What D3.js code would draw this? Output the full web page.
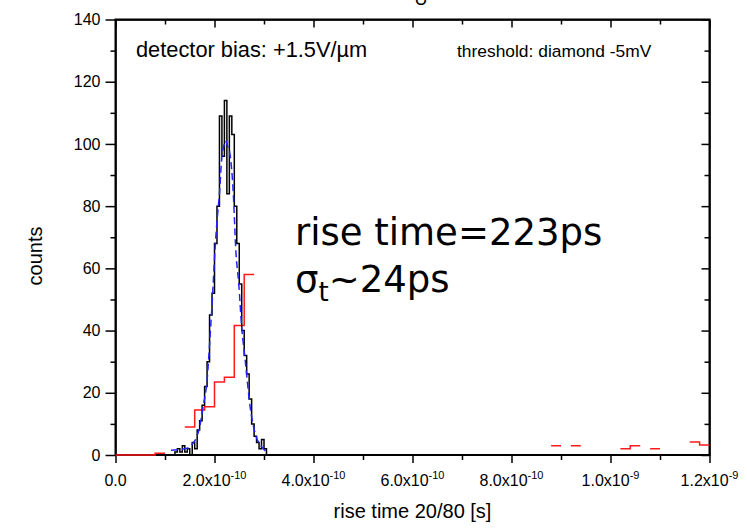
<!DOCTYPE html>
<meta charset="utf-8">
<html>
<head>
<style>
  body { margin: 0; background: #fff; }
  svg { display: block; }
  .axis path, .axis line { stroke: #000; }
  .axis text { font-family: "Liberation Sans", Arial, sans-serif; font-size: 16px; fill: #000; }
</style>
</head>
<body>
<svg id="chart"></svg>
<script src="https://cdn.jsdelivr.net/npm/d3@7"></script>
<script>

// x values are in units of 1e-10 s
var xTicks = [0, 2, 4, 6, 8, 10, 12];
var xTickMant = ["0.0", "2.0", "4.0", "6.0", "8.0", "1.0", "1.2"];
var xTickExp = [null, "-10", "-10", "-10", "-10", "-9", "-9"];
var yTicks = [0, 20, 40, 60, 80, 100, 120, 140];

// fine histogram (black), bins of 0.05e-10 starting at 1.20e-10
var blackStart = 1.20, blackWidth = 0.05;
var blackCounts = [1, 2, 1, 3, 1, 2, 0, 4, 2, 8, 11, 16, 22, 30, 45, 52, 68, 80,
                   109, 96, 114, 84, 109, 103, 80, 68, 55, 40, 32, 26, 18, 10, 6, 4, 2, 5, 2];

// gaussian fit (blue dashed)
var fitT = [1.12, 1.3, 1.45, 1.55, 1.61, 1.7, 1.77, 1.855, 1.91, 1.96, 2.01, 2.06, 2.1, 2.145,
            2.19, 2.225, 2.26, 2.31, 2.38, 2.43, 2.49, 2.55, 2.62, 2.72, 2.82, 2.95, 3.05];
var fitC = [1.5, 1.8, 2.2, 3.5, 4.8, 9, 15.5, 25, 38, 51, 66, 77, 84, 95,
            99.5, 101, 99.5, 97, 84, 66, 55, 41, 30.5, 15.5, 7, 2.7, 1];

// coarse histogram (red)
var redStart = [0, 0.8, 1.4, 1.6, 1.8, 2.0, 2.2, 2.4, 2.6, 8.8, 9.2, 10.2, 10.4, 10.8, 11.6, 11.8];
var redEnd   = [0.8, 1.0, 1.6, 1.8, 2.0, 2.2, 2.4, 2.6, 2.8, 9.0, 9.4, 10.4, 10.6, 11.0, 11.8, 12.0];
var redCounts = [0, 0.6, 9, 14.5, 15.5, 23.5, 25, 41.6, 58, 3, 3, 2, 3, 2, 4.2, 3.2];

var W = 747, H = 528;
var pLeft = 115.5, pRight = 709.5, pTop = 19.5, pBottom = 455;

var svg = d3.select("#chart").attr("width", W).attr("height", H);

var x = d3.scaleLinear().domain([0, 12]).range([pLeft, pRight]);
var y = d3.scaleLinear().domain([0, 140]).range([pBottom, pTop]);

var minorX = d3.range(1, 12, 2);
var minorY = d3.range(10, 140, 20);

// bottom axis
svg.append("g").attr("class", "axis")
    .attr("transform", "translate(0," + pBottom + ")")
    .call(d3.axisBottom(x).tickValues(xTicks).tickSize(8).tickSizeOuter(0).tickFormat(""));
svg.append("g").attr("class", "axis")
    .attr("transform", "translate(0," + pBottom + ")")
    .call(d3.axisBottom(x).tickValues(minorX).tickSize(5).tickSizeOuter(0).tickFormat(""));
// top axis, ticks inward
svg.append("g").attr("class", "axis")
    .attr("transform", "translate(0," + pTop + ")")
    .call(d3.axisBottom(x).tickValues(xTicks).tickSize(8).tickSizeOuter(0).tickFormat(""));
svg.append("g").attr("class", "axis")
    .attr("transform", "translate(0," + pTop + ")")
    .call(d3.axisBottom(x).tickValues(minorX).tickSize(5).tickSizeOuter(0).tickFormat(""));
// left axis
svg.append("g").attr("class", "axis")
    .attr("transform", "translate(" + pLeft + ",0)")
    .call(d3.axisLeft(y).tickValues(yTicks).tickSize(10).tickPadding(5).tickSizeOuter(0));
svg.append("g").attr("class", "axis")
    .attr("transform", "translate(" + pLeft + ",0)")
    .call(d3.axisLeft(y).tickValues(minorY).tickSize(5).tickSizeOuter(0).tickFormat(""));
// right axis, ticks inward
svg.append("g").attr("class", "axis")
    .attr("transform", "translate(" + pRight + ",0)")
    .call(d3.axisLeft(y).tickValues(yTicks).tickSize(8).tickSizeOuter(0).tickFormat(""));
svg.append("g").attr("class", "axis")
    .attr("transform", "translate(" + pRight + ",0)")
    .call(d3.axisLeft(y).tickValues(minorY).tickSize(5).tickSizeOuter(0).tickFormat(""));

svg.selectAll(".axis line").attr("stroke-width", 1.5);

// frame
svg.append("rect")
    .attr("x", pLeft).attr("y", pTop)
    .attr("width", pRight - pLeft).attr("height", pBottom - pTop)
    .attr("fill", "none").attr("stroke", "#000").attr("stroke-width", 2);

// x tick labels with exponents
var xl = svg.append("g").selectAll("text")
    .data(xTicks)
  .enter().append("text")
    .attr("x", function(d) { return x(d); })
    .attr("y", 486)
    .attr("text-anchor", "middle")
    .style("font-family", "Liberation Sans, Arial, sans-serif")
    .style("font-size", "16px");
xl.each(function(d, i) {
  var t = d3.select(this);
  if (xTickExp[i]) {
    t.append("tspan").text(xTickMant[i] + "x10");
    t.append("tspan").attr("dy", -7).style("font-size", "11px").text(xTickExp[i]);
  } else {
    t.text(xTickMant[i]);
  }
});

// axis titles
svg.append("text")
    .attr("x", (pLeft + pRight) / 2).attr("y", 518)
    .attr("text-anchor", "middle")
    .style("font-family", "Liberation Sans, Arial, sans-serif")
    .style("font-size", "20px")
    .text("rise time 20/80 [s]");

svg.append("text")
    .attr("transform", "translate(42,256) rotate(-90)")
    .attr("text-anchor", "middle")
    .style("font-family", "Liberation Sans, Arial, sans-serif")
    .style("font-size", "20px")
    .text("counts");

// red histogram
var redPts = [];
redCounts.forEach(function(c, i) {
  if (i > 0 && redStart[i] !== redEnd[i - 1]) redPts.push(null);
  redPts.push([redStart[i], c]);
  redPts.push([redEnd[i], c]);
});
var segLine = d3.line()
    .defined(function(d) { return d !== null; })
    .x(function(d) { return x(d[0]); })
    .y(function(d) { return y(d[1]); });

svg.append("path")
    .datum(redPts)
    .attr("d", segLine)
    .attr("fill", "none")
    .attr("stroke", "#ff1a1a")
    .attr("stroke-width", 1.5);

// black histogram
var blackPts = [[blackStart, 0]];
blackCounts.forEach(function(c, i) {
  var s = blackStart + i * blackWidth;
  blackPts.push([s, c]);
  blackPts.push([s + blackWidth, c]);
});
blackPts.push([blackStart + blackCounts.length * blackWidth, 0]);

svg.append("path")
    .datum(blackPts)
    .attr("d", segLine)
    .attr("fill", "none")
    .attr("stroke", "#000")
    .attr("stroke-width", 1.5);

// gaussian fit
var fitLine = d3.line()
    .x(function(d, i) { return x(fitT[i]); })
    .y(function(d) { return y(d); })
    .curve(d3.curveMonotoneX);

svg.append("path")
    .datum(fitC)
    .attr("d", fitLine)
    .attr("fill", "none")
    .attr("stroke", "#2424ff")
    .attr("stroke-width", 1.5)
    .attr("stroke-dasharray", "7,4");

// annotations
svg.append("text")
    .attr("x", 136).attr("y", 57)
    .style("font-family", "Liberation Sans, Arial, sans-serif")
    .style("font-size", "21.8px")
    .text("detector bias: +1.5V/\u00b5m");

svg.append("text")
    .attr("x", 457).attr("y", 57)
    .style("font-family", "Liberation Sans, Arial, sans-serif")
    .style("font-size", "17.4px")
    .text("threshold: diamond -5mV");

// cut-off title glyph at the very top
svg.append("text")
    .attr("x", 421).attr("y", 5)
    .attr("text-anchor", "middle")
    .style("font-family", "Liberation Sans, Arial, sans-serif")
    .style("font-size", "18px")
    .text("U");

var big = svg.append("g")
    .style("font-family", "DejaVu Sans, Verdana, sans-serif")
    .style("font-size", "37px");
big.append("text").attr("x", 295).attr("y", 245).text("rise time=223ps");
var sig = big.append("text").attr("x", 295).attr("y", 292);
sig.append("tspan").text("\u03c3");
sig.append("tspan").attr("dy", 9).style("font-size", "26px").text("t");
sig.append("tspan").attr("dy", -9).text("~24ps");

</script>
</body>
</html>
